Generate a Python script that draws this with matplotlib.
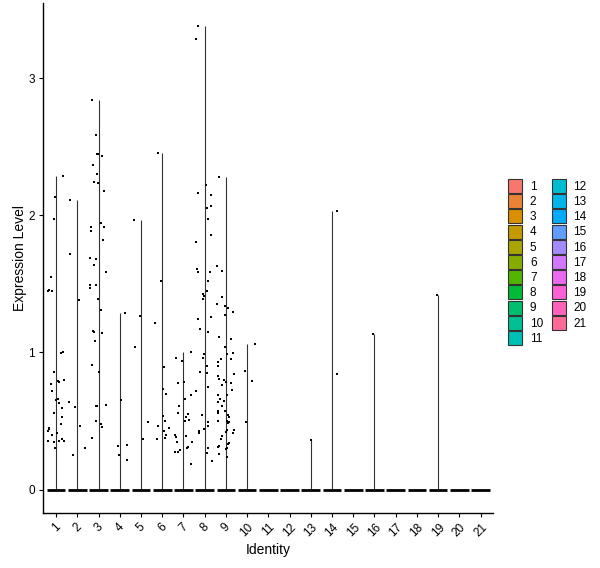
import numpy as np
import matplotlib
matplotlib.use("Agg")
import matplotlib.pyplot as plt
from matplotlib.patches import Patch

plt.rcParams['font.family'] = ['Liberation Sans', 'DejaVu Sans']

identities = [str(i) for i in range(1, 22)]

# non-zero cells per identity: jitter offset (x units) and expression level
jit_1 = [0.35, -0.03, -0.08, -0.26, -0.39, -0.34, -0.20, 0.22, 0.32, -0.11, -0.26, 0.08, 0.13, 0.36,
         -0.20, 0.00, 0.08, 0.13, 0.27, -0.11, 0.27, 0.21, -0.31, -0.34, -0.39, 0.03, -0.20, -0.39,
         -0.11, 0.13, 0.27, 0.36, -0.03]
expr_1 = [2.285, 2.133, 1.972, 1.55, 1.446, 1.453, 1.446, 0.997, 1.004, 0.856, 0.768, 0.788, 0.783, 0.797,
          0.72, 0.654, 0.661, 0.63, 0.596, 0.56, 0.53, 0.477, 0.45, 0.44, 0.426, 0.414, 0.40, 0.355,
          0.344, 0.353, 0.368, 0.353, 0.305]

jit_2 = [-0.36, -0.36, 0.07, -0.39, -0.12, 0.11, 0.35, -0.20]
expr_2 = [2.109, 1.715, 1.38, 0.637, 0.603, 0.465, 0.305, 0.251]

jit_3 = [-0.30, -0.12, -0.09, -0.03, 0.16, -0.26, -0.06, -0.22, -0.03, 0.25, 0.11, -0.36, -0.36, 0.25,
         0.23, -0.39, -0.11, -0.20, 0.36, -0.39, -0.11, -0.39, -0.03, 0.11, -0.26, -0.20, 0.17,
         -0.16, -0.31, 0.03, -0.11, -0.05, 0.36, -0.11, 0.11, 0.17, -0.31]
expr_3 = [2.844, 2.589, 2.451, 2.451, 2.431, 2.366, 2.300, 2.242, 2.235, 2.176, 1.943, 1.914, 1.885, 1.914,
          1.822, 1.688, 1.679, 1.635, 1.584, 1.492, 1.492, 1.47, 1.387, 1.307, 1.157, 1.147, 1.14,
          1.084, 0.907, 0.856, 0.61, 0.61, 0.618, 0.499, 0.477, 0.457, 0.375]

jit_4 = [0.27, 0.07, -0.08, 0.35, -0.03, 0.32]
expr_4 = [1.288, 0.652, 0.319, 0.326, 0.251, 0.215]

jit_5 = [-0.31, -0.06, -0.26, 0.32, 0.11]
expr_5 = [1.963, 1.264, 1.04, 0.492, 0.368]

jit_6 = [-0.20, -0.05, -0.36, 0.07, 0.02, 0.16, 0.02, 0.11, -0.22, 0.32, 0.07, 0.16, 0.11, -0.26]
expr_6 = [2.453, 1.519, 1.215, 0.894, 0.734, 0.696, 0.538, 0.499, 0.465, 0.448, 0.428, 0.399, 0.375, 0.368]

jit_7 = [0.36, -0.34, -0.06, -0.26, 0.03, 0.36, 0.08, -0.20, -0.26, 0.22, 0.13, 0.25, 0.07, -0.39,
         -0.36, 0.13, -0.31, 0.40, 0.22, 0.18, -0.39, -0.25, -0.16, 0.36]
expr_7 = [1.0, 0.96, 0.938, 0.776, 0.785, 0.69, 0.661, 0.608, 0.559, 0.55, 0.528, 0.506, 0.499, 0.397,
          0.385, 0.39, 0.348, 0.348, 0.312, 0.30, 0.275, 0.275, 0.285, 0.188]

jit_8 = [-0.31, -0.41, -0.31, 0.30, 0.07, 0.11, 0.30, 0.16, 0.30, -0.41, -0.36, -0.31, 0.25, 0.16,
         0.11, -0.08, -0.03, -0.08, -0.31, 0.30, -0.22, 0.16, -0.05, -0.08, 0.11, -0.20, 0.11, 0.16,
         -0.39, -0.12, 0.16, 0.16, -0.05, -0.26, -0.26, 0.16, 0.11, 0.35]
expr_8 = [3.378, 3.283, 2.16, 2.152, 2.22, 2.052, 2.067, 1.970, 1.856, 1.803, 1.608, 1.589, 1.589, 1.521,
          1.448, 1.426, 1.412, 1.39, 1.244, 1.259, 1.171, 1.149, 0.987, 0.96, 0.902, 0.856, 0.851, 0.747,
          0.717, 0.545, 0.489, 0.462, 0.443, 0.426, 0.409, 0.304, 0.268, 0.208]

jit_9 = [-0.31, -0.41, -0.20, -0.16, -0.40, -0.06, 0.12, 0.32, -0.06, -0.30, 0.22, -0.05, 0.03, 0.32,
         0.22, -0.25, -0.39, -0.39, 0.36, -0.39, -0.30, -0.11, -0.01, 0.22, -0.20, 0.27, -0.39, 0.03,
         -0.27, -0.11, -0.39, -0.16, -0.39, -0.39, -0.06, 0.08, 0.13, -0.39, 0.03, 0.08, 0.13, 0.36,
         0.32, 0.03, -0.01, -0.20, -0.25, 0.17, 0.08, -0.34, -0.39, 0.03, -0.01, -0.30, 0.03]
expr_9 = [2.278, 1.63, 1.594, 1.404, 1.353, 1.339, 1.324, 1.295, 1.273, 1.113, 1.098, 1.04, 0.987, 0.996,
          0.953, 0.953, 0.929, 0.902, 0.841, 0.829, 0.805, 0.797, 0.785, 0.778, 0.763, 0.725, 0.693, 0.693,
          0.66, 0.647, 0.635, 0.61, 0.57, 0.559, 0.574, 0.54, 0.526, 0.497, 0.497, 0.482, 0.489, 0.433,
          0.409, 0.433, 0.421, 0.39, 0.37, 0.336, 0.329, 0.319, 0.312, 0.304, 0.297, 0.261, 0.239]

jit_10 = [0.35, -0.12, 0.22, -0.03]
expr_10 = [1.06, 0.865, 0.792, 0.489]

jit_13 = [0.03]
expr_13 = [0.36]

jit_14 = [0.22, 0.22]
expr_14 = [2.03, 0.841]

jit_16 = [-0.06]
expr_16 = [1.133]

jit_19 = [-0.03]
expr_19 = [1.419]

points = {1: (jit_1, expr_1), 2: (jit_2, expr_2), 3: (jit_3, expr_3), 4: (jit_4, expr_4),
          5: (jit_5, expr_5), 6: (jit_6, expr_6), 7: (jit_7, expr_7), 8: (jit_8, expr_8),
          9: (jit_9, expr_9), 10: (jit_10, expr_10), 13: (jit_13, expr_13), 14: (jit_14, expr_14),
          16: (jit_16, expr_16), 19: (jit_19, expr_19)}


def hue_pal(n, l=65, c=100):
    # ggplot2 default discrete palette (HCL hues)
    xn, yn, zn = 95.047, 100.0, 108.883
    un = 4 * xn / (xn + 15 * yn + 3 * zn)
    vn = 9 * yn / (xn + 15 * yn + 3 * zn)
    y = yn * ((l + 16) / 116) ** 3
    m = np.array([[3.240479, -1.537150, -0.498535],
                  [-0.969256, 1.875992, 0.041556],
                  [0.055648, -0.204043, 1.057311]])
    out = []
    for i in range(n):
        h = np.deg2rad(15 + 360 * i / n)
        up = c * np.cos(h) / (13 * l) + un
        vp = c * np.sin(h) / (13 * l) + vn
        x = 9 * y * up / (4 * vp)
        z = -x / 3 - 5 * y + 3 * y / vp
        rgb = m @ (np.array([x, y, z]) / 100)
        rgb = np.where(rgb <= 0.0031308, 12.92 * rgb, 1.055 * np.abs(rgb) ** (1 / 2.4) - 0.055)
        out.append(tuple(np.clip(rgb, 0, 1)))
    return out


colors = hue_pal(len(identities))

fig = plt.figure(figsize=(6, 5.68), dpi=100)
ax = fig.add_axes([0.0722, 0.0974, 0.75, 0.8968])

# violins collapse to a line from 0 to the max value
for k, (jit, expr) in points.items():
    ax.vlines(k, 0, max(expr), color='#333333', lw=0.8, zorder=2)

# zero band (violin base + jittered zeros)
pos = np.arange(1, len(identities) + 1)
ax.hlines(np.zeros(len(pos)), pos - 0.44, pos + 0.44, color='black', lw=2.0, capstyle='butt', zorder=3)

for k, (jit, expr) in points.items():
    ax.scatter(k + np.array(jit), expr, s=3.4, color='black', marker='s', linewidths=0, zorder=4)

ax.set_xlim(0.4, 21.6)
ax.set_ylim(-0.169, 3.547)
ax.set_xticks(pos)
ax.set_xticklabels(identities, rotation=45, ha='center', va='top')
ax.set_yticks([0, 1, 2, 3])
ax.tick_params(labelsize=8.5, length=3, width=0.8, colors='black', pad=3)
for s in ['top', 'right']:
    ax.spines[s].set_visible(False)
for s in ['left', 'bottom']:
    ax.spines[s].set_linewidth(1.0)
ax.set_xlabel('Identity', fontsize=10, labelpad=3)
ax.set_ylabel('Expression Level', fontsize=10, labelpad=1)

handles = [Patch(facecolor=c, edgecolor='#333333', lw=0.8) for c in colors]
fig.legend(handles, identities, loc='upper left', bbox_to_anchor=(0.847, 0.6849), ncol=2,
           frameon=False, fontsize=8.5, handlelength=1.19, handleheight=1.45, labelspacing=0.1,
           handletextpad=0.65, columnspacing=0.73, borderpad=0, borderaxespad=0)

fig.savefig('out.png', dpi=100)
